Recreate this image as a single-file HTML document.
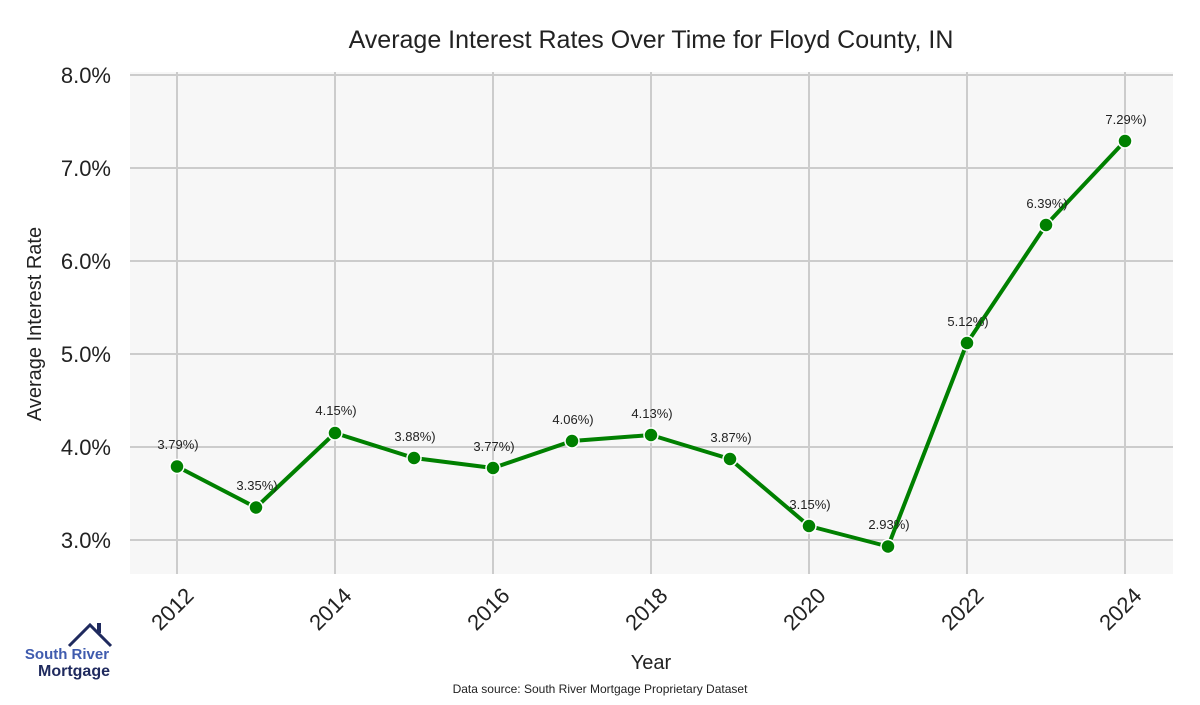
<!DOCTYPE html>
<html><head><meta charset="utf-8"><style>
body{margin:0;background:#fff;}
svg text{font-family:"Liberation Sans",sans-serif;}
</style></head><body>
<svg width="1200" height="700" viewBox="0 0 1200 700" xmlns="http://www.w3.org/2000/svg">
<rect x="130" y="72" width="1043" height="502" fill="#f7f7f7"/>
<g stroke="#cccccc" stroke-width="2">
<line x1="130" x2="1173" y1="75" y2="75"/>
<line x1="130" x2="1173" y1="168" y2="168"/>
<line x1="130" x2="1173" y1="261" y2="261"/>
<line x1="130" x2="1173" y1="354" y2="354"/>
<line x1="130" x2="1173" y1="447" y2="447"/>
<line x1="130" x2="1173" y1="540" y2="540"/>
<line x1="177" x2="177" y1="72" y2="574"/>
<line x1="335" x2="335" y1="72" y2="574"/>
<line x1="493" x2="493" y1="72" y2="574"/>
<line x1="651" x2="651" y1="72" y2="574"/>
<line x1="809" x2="809" y1="72" y2="574"/>
<line x1="967" x2="967" y1="72" y2="574"/>
<line x1="1125" x2="1125" y1="72" y2="574"/>
</g>
<polyline fill="none" stroke="#008000" stroke-width="4" stroke-linejoin="round" points="177,466.5 256,507.5 335,433 414,458 493,468 572,441 651,435 730,459 809,526 888,546.5 967,343 1046,225 1125,141"/>
<g fill="#008000" stroke="#fff" stroke-width="1.5">
<circle cx="177" cy="466.5" r="7"/><circle cx="256" cy="507.5" r="7"/><circle cx="335" cy="433" r="7"/><circle cx="414" cy="458" r="7"/><circle cx="493" cy="468" r="7"/><circle cx="572" cy="441" r="7"/><circle cx="651" cy="435" r="7"/><circle cx="730" cy="459" r="7"/><circle cx="809" cy="526" r="7"/><circle cx="888" cy="546.5" r="7"/><circle cx="967" cy="343" r="7"/><circle cx="1046" cy="225" r="7"/><circle cx="1125" cy="141" r="7"/>
</g>
<g font-size="13" fill="#222" text-anchor="middle">
<text x="178" y="449">3.79%)</text><text x="257" y="490">3.35%)</text><text x="336" y="415">4.15%)</text><text x="415" y="441">3.88%)</text><text x="494" y="451">3.77%)</text><text x="573" y="424">4.06%)</text><text x="652" y="418">4.13%)</text><text x="731" y="442">3.87%)</text><text x="810" y="509">3.15%)</text><text x="889" y="529">2.93%)</text><text x="968" y="326">5.12%)</text><text x="1047" y="208">6.39%)</text><text x="1126" y="124">7.29%)</text>
</g>
<g font-size="22" fill="#222" text-anchor="end">
<text x="111" y="83">8.0%</text><text x="111" y="176">7.0%</text><text x="111" y="269">6.0%</text><text x="111" y="362">5.0%</text><text x="111" y="455">4.0%</text><text x="111" y="548">3.0%</text>
</g>
<g font-size="22" fill="#222" text-anchor="end">
<text transform="translate(195,597) rotate(-45)">2012</text>
<text transform="translate(353,597) rotate(-45)">2014</text>
<text transform="translate(511,597) rotate(-45)">2016</text>
<text transform="translate(669,597) rotate(-45)">2018</text>
<text transform="translate(827,597) rotate(-45)">2020</text>
<text transform="translate(985,597) rotate(-45)">2022</text>
<text transform="translate(1143,597) rotate(-45)">2024</text>
</g>
<text x="651" y="48" font-size="25" fill="#222" text-anchor="middle">Average Interest Rates Over Time for Floyd County, IN</text>
<text x="651" y="669" font-size="20" fill="#222" text-anchor="middle">Year</text>
<text transform="translate(41,324) rotate(-90)" font-size="20" fill="#222" text-anchor="middle">Average Interest Rate</text>
<text x="600" y="693" font-size="12" fill="#222" text-anchor="middle">Data source: South River Mortgage Proprietary Dataset</text>
<polyline points="69,646 90,625 111,646" fill="none" stroke="#1f2a5e" stroke-width="3"/>
<rect x="97" y="623" width="4" height="10" fill="#1f2a5e"/>
<text x="67" y="659" font-size="15" font-weight="bold" fill="#3f5bae" text-anchor="middle">South River</text>
<text x="74" y="676" font-size="16" font-weight="bold" fill="#1f2a5e" text-anchor="middle">Mortgage</text>
</svg>
</body></html>
